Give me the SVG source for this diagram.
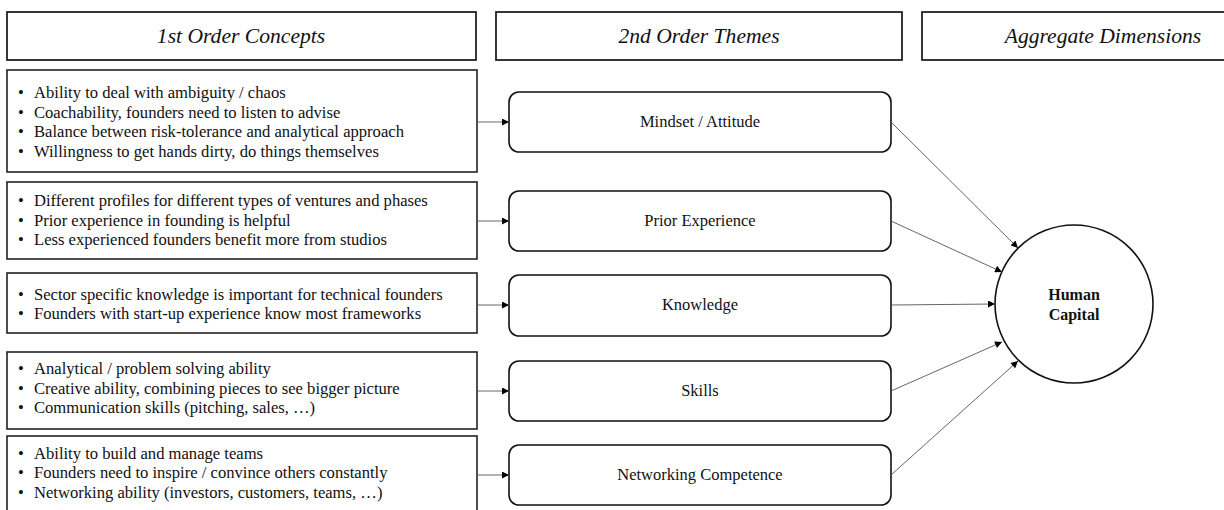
<svg xmlns="http://www.w3.org/2000/svg" width="1224" height="510" viewBox="0 0 1224 510">
  <defs>
    <marker id="arrow" viewBox="0 0 10 10" refX="10" refY="5" markerWidth="9" markerHeight="7" markerUnits="userSpaceOnUse" orient="auto">
      <path d="M0,0 L10,5 L0,10 z" fill="#000"/>
    </marker>
    <style>
      .hdr { fill: #fff; stroke: #222; stroke-width: 1.8; }
      .hdr-t { font-family: "Liberation Serif", "Times New Roman", serif; font-style: italic; font-size: 21.6px; fill: #111; text-anchor: middle; }
      .cbox { fill: #fff; stroke: #222; stroke-width: 1.6; }
      .ct { font-family: "Liberation Serif", "Times New Roman", serif; font-size: 16.6px; fill: #111; }
      .tbox { fill: #fff; stroke: #111; stroke-width: 1.6; }
      .tt { font-family: "Liberation Serif", "Times New Roman", serif; font-size: 16.5px; fill: #111; text-anchor: middle; }
      .link { stroke: #555; stroke-width: 0.9; fill: none; marker-end: url(#arrow); }
      .agg { fill: #fff; stroke: #111; stroke-width: 1.6; }
      .at { font-family: "Liberation Serif", "Times New Roman", serif; font-size: 16px; font-weight: bold; fill: #111; text-anchor: middle; }
    </style>
  </defs>
  <rect width="1224" height="510" fill="#fff"/>

  <!-- column headers -->
  <g id="header-concepts">
    <rect class="hdr" x="7" y="12" width="469" height="48"/>
    <text class="hdr-t" x="241" y="43">1st Order Concepts</text>
  </g>
  <g id="header-themes">
    <rect class="hdr" x="496" y="12" width="406" height="48"/>
    <text class="hdr-t" x="699" y="43">2nd Order Themes</text>
  </g>
  <g id="header-dimensions">
    <rect class="hdr" x="922" y="12" width="362" height="48"/>
    <text class="hdr-t" x="1103" y="43">Aggregate Dimensions</text>
  </g>

  <!-- 1st order concepts -->
  <g id="concepts-mindset">
    <rect class="cbox" x="7" y="70" width="470" height="102"/>
    <text class="ct" x="18" y="98">•</text><text class="ct" x="34" y="98">Ability to deal with ambiguity / chaos</text>
    <text class="ct" x="18" y="117.5">•</text><text class="ct" x="34" y="117.5">Coachability, founders need to listen to advise</text>
    <text class="ct" x="18" y="137">•</text><text class="ct" x="34" y="137">Balance between risk-tolerance and analytical approach</text>
    <text class="ct" x="18" y="156.5">•</text><text class="ct" x="34" y="156.5">Willingness to get hands dirty, do things themselves</text>
  </g>
  <g id="concepts-experience">
    <rect class="cbox" x="7" y="182" width="470" height="77"/>
    <text class="ct" x="18" y="206">•</text><text class="ct" x="34" y="206">Different profiles for different types of ventures and phases</text>
    <text class="ct" x="18" y="225.5">•</text><text class="ct" x="34" y="225.5">Prior experience in founding is helpful</text>
    <text class="ct" x="18" y="245">•</text><text class="ct" x="34" y="245">Less experienced founders benefit more from studios</text>
  </g>
  <g id="concepts-knowledge">
    <rect class="cbox" x="7" y="273" width="470" height="60"/>
    <text class="ct" x="18" y="299.5">•</text><text class="ct" x="34" y="299.5">Sector specific knowledge is important for technical founders</text>
    <text class="ct" x="18" y="319">•</text><text class="ct" x="34" y="319">Founders with start-up experience know most frameworks</text>
  </g>
  <g id="concepts-skills">
    <rect class="cbox" x="7" y="352" width="470" height="77"/>
    <text class="ct" x="18" y="374">•</text><text class="ct" x="34" y="374">Analytical / problem solving ability</text>
    <text class="ct" x="18" y="393.5">•</text><text class="ct" x="34" y="393.5">Creative ability, combining pieces to see bigger picture</text>
    <text class="ct" x="18" y="413">•</text><text class="ct" x="34" y="413">Communication skills (pitching, sales, …)</text>
  </g>
  <g id="concepts-networking">
    <rect class="cbox" x="7" y="436" width="470" height="84"/>
    <text class="ct" x="18" y="458.5">•</text><text class="ct" x="34" y="458.5">Ability to build and manage teams</text>
    <text class="ct" x="18" y="478">•</text><text class="ct" x="34" y="478">Founders need to inspire / convince others constantly</text>
    <text class="ct" x="18" y="497.5">•</text><text class="ct" x="34" y="497.5">Networking ability (investors, customers, teams, …)</text>
  </g>

  <!-- 2nd order themes -->
  <g id="theme-mindset">
    <rect class="tbox" x="509" y="92" width="382" height="60" rx="10"/>
    <text class="tt" x="700" y="127">Mindset / Attitude</text>
  </g>
  <g id="theme-experience">
    <rect class="tbox" x="509" y="191" width="382" height="60" rx="10"/>
    <text class="tt" x="700" y="226">Prior Experience</text>
  </g>
  <g id="theme-knowledge">
    <rect class="tbox" x="509" y="275" width="382" height="61" rx="10"/>
    <text class="tt" x="700" y="310">Knowledge</text>
  </g>
  <g id="theme-skills">
    <rect class="tbox" x="509" y="361" width="382" height="60" rx="10"/>
    <text class="tt" x="700" y="396">Skills</text>
  </g>
  <g id="theme-networking">
    <rect class="tbox" x="509" y="445" width="382" height="60" rx="10"/>
    <text class="tt" x="700" y="480">Networking Competence</text>
  </g>

  <!-- aggregate dimension -->
  <g id="dimension-human-capital">
    <circle class="agg" cx="1074" cy="304" r="79"/>
    <text class="at" x="1074" y="300">Human</text>
    <text class="at" x="1074" y="320">Capital</text>
  </g>

  <!-- connectors -->
  <g id="connectors">
    <line class="link" x1="477" y1="122" x2="509" y2="122"/>
    <line class="link" x1="477" y1="221" x2="509" y2="221"/>
    <line class="link" x1="477" y1="305" x2="509" y2="305"/>
    <line class="link" x1="477" y1="391" x2="509" y2="391"/>
    <line class="link" x1="477" y1="475" x2="509" y2="475"/>
    <line class="link" x1="891" y1="122" x2="1018" y2="248"/>
    <line class="link" x1="891" y1="221" x2="1002" y2="272"/>
    <line class="link" x1="891" y1="305" x2="995" y2="304"/>
    <line class="link" x1="891" y1="391" x2="1002" y2="342"/>
    <line class="link" x1="891" y1="475" x2="1018" y2="361"/>
  </g>
</svg>
